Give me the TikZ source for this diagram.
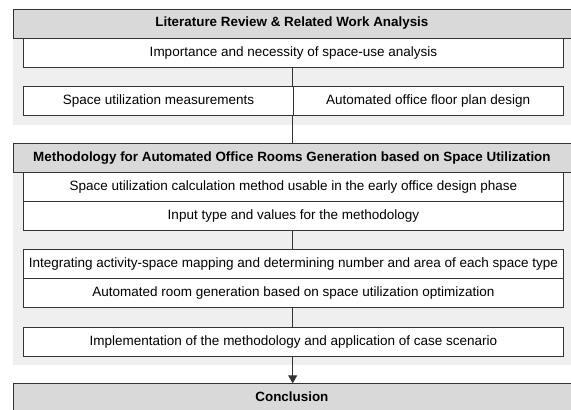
\documentclass[tikz,border=0pt]{standalone}
\usepackage{fontspec}
\setmainfont{Liberation Sans}
\usetikzlibrary{arrows.meta}
\definecolor{hdrgray}{HTML}{D9D9D9}
\definecolor{panelgray}{HTML}{EFEFEF}
\definecolor{edge}{HTML}{333333}
\tikzset{
  hdr/.style={draw=edge, line width=1pt, fill=hdrgray, inner sep=0pt, anchor=north west},
  hdrtext/.style={font=\fontsize{13.4}{16}\selectfont\bfseries, inner sep=0pt},
  panel/.style={fill=panelgray, draw=none, inner sep=0pt, anchor=north west},
  wbox/.style={draw=edge, line width=0.9pt, fill=white, inner sep=0pt, font=\fontsize{13.5}{16}\selectfont, anchor=north west},
  link/.style={draw=edge, line width=1pt},
}
\begin{document}
\begin{tikzpicture}[x=1pt,y=-1pt]
\useasboundingbox (0,0) rectangle (571,410);
\clip (0,0) rectangle (571,410);
% panels
\node[panel, minimum width=570pt, minimum height=87.3pt] (p1) at (12.7,37.7) {};
\node[panel, minimum width=570pt, minimum height=192.7pt] (p2) at (12.7,172.3) {};
% headers
\node[hdr, minimum width=560pt, minimum height=28.7pt] (h1) at (12.7,9) {};
\node[hdrtext] (h1t) at (291.9,23.3) {Literature Review \& Related Work Analysis};
\node[hdr, minimum width=560pt, minimum height=29pt] (h2) at (12.7,143.3) {};
\node[hdrtext] (h2t) at (291.9,157.8) {Methodology for Automated Office Rooms Generation based on Space Utilization};
\node[hdr, minimum width=560pt, minimum height=30pt] (h3) at (12.7,383.3) {};
\node[hdrtext] (h3t) at (291.9,396.7) {Conclusion};
% boxes
\node[wbox, minimum width=539.4pt, minimum height=29pt] (imp) at (23.3,37.7) {Importance and necessity of space-use analysis};
\node[wbox, minimum width=269.4pt, minimum height=29pt] (sum) at (23.3,86) {Space utilization measurements};
\node[wbox, minimum width=270pt, minimum height=29pt] (afp) at (292.7,86) {Automated office floor plan design};
\node[wbox, minimum width=539.4pt, minimum height=28.7pt] (suc) at (23.3,172.3) {Space utilization calculation method usable in the early office design phase};
\node[wbox, minimum width=539.4pt, minimum height=29pt] (inp) at (23.3,201) {Input type and values for the methodology};
\node[wbox, minimum width=539.4pt, minimum height=29.3pt] (int) at (23.3,249) {Integrating activity-space mapping and determining number and area of each space type};
\node[wbox, minimum width=539.4pt, minimum height=29pt] (arg) at (23.3,278.3) {Automated room generation based on space utilization optimization};
\node[wbox, minimum width=539.4pt, minimum height=29pt] (impl) at (23.3,326.7) {Implementation of the methodology and application of case scenario};
% connectors
\coordinate (c1) at (292.7,86);
\coordinate (c2) at (292.7,115);
\coordinate (c3) at (292.7,143.3);
\draw[link] (imp.south -| c1) -- (c1);
\draw[link] (c2) -- (c3);
\draw[link] (inp.south -| c1) -- (int.north -| c1);
\draw[link] (arg.south -| c1) -- (impl.north -| c1);
\draw[link, -{Triangle[length=8pt,width=9pt]}] (impl.south -| c1) -- (h3.north -| c1);
\end{tikzpicture}
\end{document}
